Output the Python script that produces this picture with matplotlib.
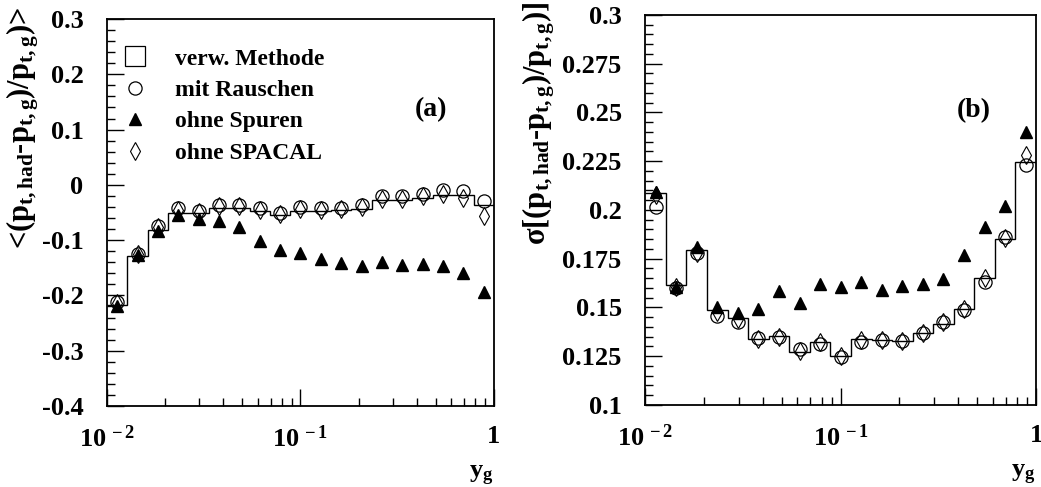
import numpy as np
import matplotlib
matplotlib.use('Agg')
import matplotlib.pyplot as plt
from matplotlib.lines import Line2D
from matplotlib.ticker import FixedLocator, FixedFormatter, LogLocator, NullFormatter

# bold serif everywhere, mathtext too (subscripts are upright bold)
plt.rcParams['font.family'] = ['Liberation Serif', 'DejaVu Serif']
plt.rcParams['font.weight'] = 'bold'
plt.rcParams['axes.labelweight'] = 'bold'
plt.rcParams['mathtext.fontset'] = 'custom'
plt.rcParams['mathtext.rm'] = 'Liberation Serif:bold'
plt.rcParams['mathtext.it'] = 'Liberation Serif:bold'
plt.rcParams['mathtext.bf'] = 'Liberation Serif:bold'
plt.rcParams['axes.unicode_minus'] = False

# 19 log bins in y_g between 0.01 and 1
n_bins = 19
y_lo, y_hi = 1e-2, 1.0

# (a) mean relative p_t deviation
mean_verw = [-0.218, -0.129, -0.082, -0.050, -0.051, -0.041, -0.042, -0.047, -0.054, -0.047,
             -0.048, -0.046, -0.044, -0.027, -0.027, -0.023, -0.018, -0.018, -0.036]
mean_rausch = [-0.211, -0.125, -0.074, -0.042, -0.047, -0.036, -0.036, -0.042, -0.050, -0.040,
               -0.042, -0.041, -0.036, -0.020, -0.020, -0.016, -0.010, -0.011, -0.029]
mean_spuren = [-0.220, -0.127, -0.083, -0.054, -0.062, -0.065, -0.077, -0.101, -0.118, -0.123,
               -0.134, -0.141, -0.146, -0.139, -0.145, -0.144, -0.146, -0.159, -0.193]
mean_spacal = [-0.214, -0.125, -0.077, -0.045, -0.049, -0.038, -0.039, -0.045, -0.052, -0.043,
               -0.045, -0.044, -0.040, -0.025, -0.025, -0.021, -0.017, -0.024, -0.056]

# (b) resolution sigma
sig_verw = [0.2086, 0.1615, 0.1795, 0.1489, 0.1446, 0.1337, 0.1356, 0.1273, 0.1325, 0.1251,
            0.1337, 0.1333, 0.1330, 0.1371, 0.1415, 0.1491, 0.1650, 0.1851, 0.2245]
sig_rausch = [0.2017, 0.1598, 0.1781, 0.1458, 0.1427, 0.1342, 0.1350, 0.1285, 0.1311, 0.1245,
              0.1322, 0.1333, 0.1330, 0.1368, 0.1424, 0.1487, 0.1632, 0.1860, 0.2232]
sig_spuren = [0.2094, 0.1607, 0.1809, 0.1501, 0.1470, 0.1490, 0.1586, 0.1521, 0.1621, 0.1607,
              0.1632, 0.1590, 0.1610, 0.1619, 0.1646, 0.1768, 0.1911, 0.2021, 0.2402]
sig_spacal = [0.2077, 0.1607, 0.1780, 0.1479, 0.1440, 0.1340, 0.1350, 0.1277, 0.1321, 0.1253,
              0.1333, 0.1333, 0.1330, 0.1370, 0.1427, 0.1490, 0.1650, 0.1855, 0.2282]

labels = ['verw. Methode', 'mit Rauschen', 'ohne Spuren', 'ohne SPACAL']

yticks_a = [-0.4, -0.3, -0.2, -0.1, 0.0, 0.1, 0.2, 0.3]
ylabs_a = ['-0.4', '-0.3', '-0.2', '-0.1', '0', '0.1', '0.2', '0.3']
yticks_b = [0.1, 0.125, 0.15, 0.175, 0.2, 0.225, 0.25, 0.275, 0.3]
ylabs_b = ['0.1', '0.125', '0.15', '0.175', '0.2', '0.225', '0.25', '0.275', '0.3']

edges = np.logspace(np.log10(y_lo), np.log10(y_hi), n_bins + 1)
centers = np.sqrt(edges[:-1] * edges[1:])

fig = plt.figure(figsize=(10.41, 4.87), dpi=100)
axA = fig.add_axes([0.1028, 0.1663, 0.3717, 0.7947])
axB = fig.add_axes([0.6199, 0.1684, 0.3753, 0.8008])

fs = 19

def draw_panel(ax, hist, circ, tri, dia, yt, ylabs, minor_step, ylab, tag, tagpos, ylab_x, ylab_y):
    ax.stairs(hist, edges, color='black', lw=1.0, baseline=None)
    ax.plot(centers, circ, 'o', ls='none', ms=9.5, mfc='none', mec='black', mew=0.9)
    ax.plot(centers, tri, '^', ls='none', ms=8, mfc='black', mec='black')
    ax.plot(centers, dia, 'd', ls='none', ms=9, mfc='none', mec='black', mew=0.8)
    ax.set_xscale('log')
    ax.set_xlim(y_lo, y_hi)
    ax.set_ylim(yt[0], yt[-1])
    ax.xaxis.set_major_locator(FixedLocator([0.01, 0.1, 1.0]))
    ax.xaxis.set_major_formatter(FixedFormatter(['10$^{\\,-2}$', '10$^{\\,-1}$', '1']))
    ax.xaxis.set_minor_locator(LogLocator(base=10, subs=np.arange(2, 10), numticks=20))
    ax.xaxis.set_minor_formatter(NullFormatter())
    ax.yaxis.set_major_locator(FixedLocator(yt))
    ax.yaxis.set_major_formatter(FixedFormatter(ylabs))
    ax.yaxis.set_minor_locator(FixedLocator(np.arange(yt[0], yt[-1] + 1e-9, minor_step)))
    ax.tick_params(which='both', direction='in', top=False, right=False, width=1.0)
    ax.tick_params(which='major', length=12, labelsize=fs)
    ax.tick_params(which='minor', length=6)
    ax.tick_params(axis='y', pad=17)
    ax.tick_params(axis='x', pad=14)
    for s in ax.spines.values():
        s.set_linewidth(1.3)
    ax.set_ylabel(ylab, fontsize=22, loc='top', va='center')
    ax.yaxis.set_label_coords(ylab_x, ylab_y)
    ax.set_xlabel('y$_{g}$', fontsize=fs, loc='right', va='center')
    ax.xaxis.set_label_coords(1.0, -0.18)
    ax.text(tagpos[0], tagpos[1], tag, transform=ax.transAxes, fontsize=20,
            ha='center', va='center')

draw_panel(axA, mean_verw, mean_rausch, mean_spuren, mean_spacal, yticks_a, ylabs_a, 0.02,
           '<(p$_{t,had}$-p$_{t,g}$)/p$_{t,g}$)>', '(a)', (0.837, 0.767), -0.218, 1.03)
draw_panel(axB, sig_verw, sig_rausch, sig_spuren, sig_spacal, yticks_b, ylabs_b, 0.005,
           'σ[(p$_{t,had}$-p$_{t,g}$)/p$_{t,g}$)]', '(b)', (0.841, 0.756), -0.272, 1.035)

handles = [Line2D([], [], ls='none', marker='s', ms=15, mfc='none', mec='black', mew=0.9),
           Line2D([], [], ls='none', marker='o', ms=9.5, mfc='none', mec='black', mew=0.9),
           Line2D([], [], ls='none', marker='^', ms=8, mfc='black', mec='black'),
           Line2D([], [], ls='none', marker='d', ms=9, mfc='none', mec='black', mew=0.8)]
axA.legend(handles, labels, loc='upper left', bbox_to_anchor=(0.042, 0.925), frameon=False,
           fontsize=17, handlelength=1.0, handletextpad=1.2, borderaxespad=0, borderpad=0,
           labelspacing=0.42)

fig.savefig('out.png', dpi=100)
